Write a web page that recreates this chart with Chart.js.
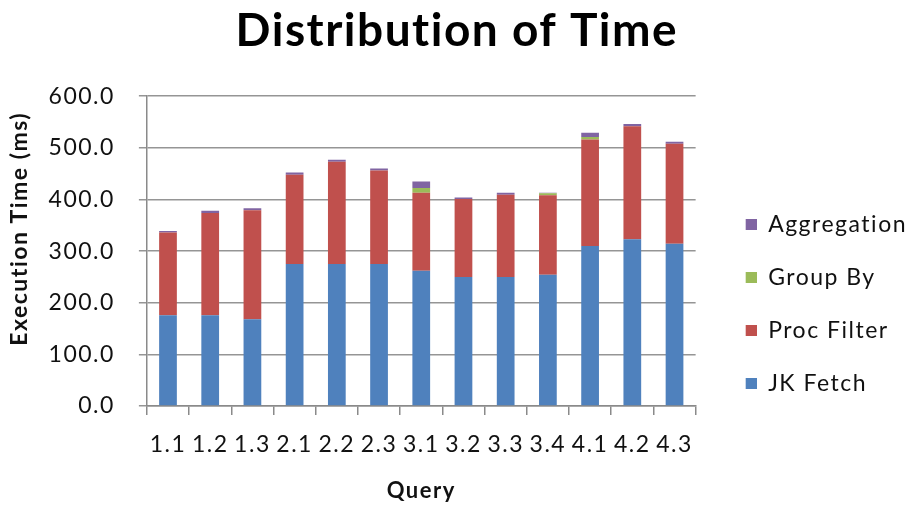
<!DOCTYPE html>
<html>
<head>
<meta charset="utf-8">
<script src="https://cdn.jsdelivr.net/npm/chart.js@4"></script>
<style>
  html, body { margin: 0; padding: 0; background: #fff; }
  #wrap { width: 914px; height: 506px; }
</style>
</head>
<body>
<div id="wrap"><canvas id="timeChart"></canvas></div>
<script>
const queries = ['1.1', '1.2', '1.3', '2.1', '2.2', '2.3', '3.1', '3.2', '3.3', '3.4', '4.1', '4.2', '4.3'];
const jkFetch = [176, 176, 168, 275, 275, 275, 262, 250, 250, 254, 310, 323, 314];
const procFilter = [160, 198, 211, 173, 198, 181, 151, 151, 159, 154, 206, 219, 194];
const groupBy = [0, 0, 0, 0, 0, 0, 9, 0, 0, 4, 5, 0, 0];
const aggregation = [3, 4, 4, 4, 4, 4, 13, 3, 4, 1, 8, 4, 4];

const fontFamily = 'Lato, "Open Sans", sans-serif';
const colors = ['#4F81BD', '#C0504D', '#9BBB59', '#8064A2'];

// the original text is drawn a little spaced out
const spacing = {
    id: 'spacing',
    beforeUpdate(chart) { chart.ctx.letterSpacing = '1.5px'; },
    beforeDraw(chart) { chart.ctx.letterSpacing = '1.5px'; }
};

// legend swatch: small square at the right end of a wider slot,
// so the squares sit away from the plot like in the original
function makeSwatch(color) {
    const c = document.createElement('canvas');
    c.width = 31;
    c.height = 11;
    const g = c.getContext('2d');
    g.fillStyle = color;
    g.fillRect(20, 0, 11, 11);
    return c;
}
const swatches = colors.map(makeSwatch);

const makeSet = (label, data, color) => ({
    label: label,
    data: data,
    backgroundColor: color,
    borderWidth: 0,
    categoryPercentage: 1.0,
    barPercentage: 0.42
});

const ctx = document.getElementById('timeChart').getContext('2d');
new Chart(ctx, {
    type: 'bar',
    data: {
        labels: queries,
        datasets: [
            makeSet('JK Fetch', jkFetch, colors[0]),
            makeSet('Proc Filter', procFilter, colors[1]),
            makeSet('Group By', groupBy, colors[2]),
            makeSet('Aggregation', aggregation, colors[3])
        ]
    },
    plugins: [spacing],
    options: {
        responsive: true,
        maintainAspectRatio: false,
        animation: false,
        layout: { padding: { left: 4, right: -3, top: 4, bottom: 2 } },
        scales: {
            x: {
                stacked: true,
                grid: { display: true, drawOnChartArea: false, offset: true, tickLength: 9, color: '#8a8a8a', lineWidth: 1.5 },
                border: { color: '#8a8a8a', width: 1.5 },
                ticks: { color: '#111', font: { family: fontFamily, size: 23 }, padding: 16, maxRotation: 0 },
                title: { display: true, text: 'Query', color: '#111', font: { family: fontFamily, size: 22, weight: 'bold' }, padding: { top: 3, bottom: 0 } }
            },
            y: {
                stacked: true,
                min: 0,
                max: 600,
                grid: { color: '#959595', lineWidth: 1.5, tickLength: 8 },
                border: { color: '#8a8a8a', width: 1.5 },
                ticks: {
                    stepSize: 100,
                    color: '#111',
                    font: { family: fontFamily, size: 23 },
                    padding: 24,
                    callback: v => v.toFixed(1)
                },
                // leading spaces push the title up a little, as in the original
                title: { display: true, text: '\u2003\u2003 Execution Time (ms)', color: '#111', font: { family: fontFamily, size: 23, weight: 'bold' }, padding: { top: 2, bottom: -9 } }
            }
        },
        plugins: {
            title: {
                display: true,
                text: 'Distribution of Time\u2009',
                color: '#000',
                font: { family: fontFamily, size: 46, weight: 'bold' },
                padding: { top: 0, bottom: 37 }
            },
            legend: {
                position: 'right',
                align: 'start',
                reverse: true,
                maxWidth: 300,
                title: { display: true, text: ' ', font: { size: 12 }, padding: { top: 165, bottom: 0 } },
                labels: {
                    color: '#111',
                    font: { family: fontFamily, size: 23 },
                    usePointStyle: true,
                    pointStyleWidth: 31,
                    boxHeight: 11,
                    padding: 30,
                    generateLabels: chart => Chart.defaults.plugins.legend.labels.generateLabels(chart)
                        .map(item => Object.assign(item, { pointStyle: swatches[item.datasetIndex] }))
                }
            },
            tooltip: { enabled: true }
        }
    }
});
</script>
</body>
</html>
